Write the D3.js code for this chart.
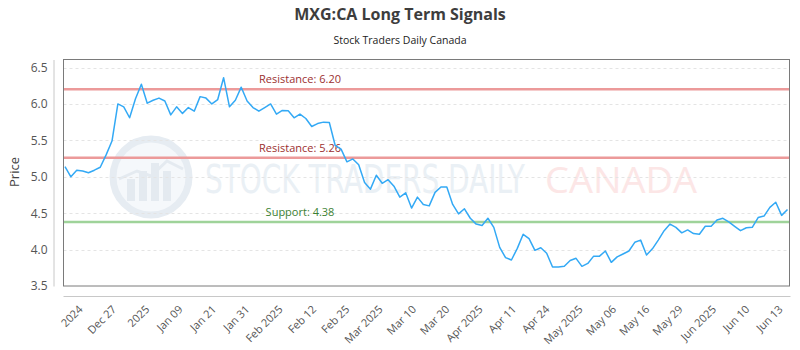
<!DOCTYPE html>
<html>
<head>
<meta charset="utf-8">
<script src="https://cdn.jsdelivr.net/npm/d3@7"></script>
<style>
  html, body { margin: 0; padding: 0; background: #fff; }
  svg { display: block; }
</style>
</head>
<body>
<svg id="chart" width="800" height="350"></svg>
<script>
// Daily closing prices, oldest first
const prices = [
  5.14, 5.00, 5.09, 5.08, 5.055, 5.09, 5.13, 5.30, 5.49, 6.00,
  5.96, 5.81, 6.07, 6.27, 6.01, 6.05, 6.08, 6.04, 5.85, 5.96,
  5.87, 5.95, 5.90, 6.10, 6.08, 6.00, 6.06, 6.36, 5.96, 6.05,
  6.23, 6.04, 5.95, 5.90, 5.95, 6.00, 5.86, 5.91, 5.905, 5.81,
  5.86, 5.80, 5.69, 5.73, 5.75, 5.745, 5.43, 5.38, 5.205, 5.245,
  5.165, 4.92, 4.83, 5.02, 4.91, 4.96, 4.87, 4.72, 4.78, 4.57,
  4.72, 4.62, 4.60, 4.785, 4.86, 4.86, 4.62, 4.49, 4.56, 4.43,
  4.35, 4.33, 4.43, 4.305, 4.03, 3.89, 3.857, 4.017, 4.21, 4.15,
  3.99, 4.025, 3.95, 3.76, 3.76, 3.77, 3.85, 3.88, 3.77, 3.81,
  3.91, 3.91, 3.98, 3.825, 3.90, 3.94, 3.98, 4.10, 4.13, 3.925,
  4.01, 4.13, 4.26, 4.35, 4.305, 4.23, 4.27, 4.22, 4.21, 4.32,
  4.32, 4.405, 4.43, 4.38, 4.32, 4.26, 4.30, 4.305, 4.44, 4.46,
  4.58, 4.65, 4.47, 4.55
];

// Date labels shown along the bottom axis
const dateLabels = [
  "2024", "Dec 27", "2025", "Jan 09", "Jan 21", "Jan 31", "Feb 2025",
  "Feb 12", "Feb 25", "Mar 2025", "Mar 10", "Mar 20", "Apr 2025",
  "Apr 11", "Apr 24", "May 2025", "May 06", "May 16", "May 29",
  "Jun 2025", "Jun 10", "Jun 13"
];

// Price axis ticks
const priceTicks = [3.5, 4.0, 4.5, 5.0, 5.5, 6.0, 6.5];

// Signal levels
const levelNames  = ["Resistance", "Resistance", "Support"];
const levelValues = [6.20, 5.26, 4.38];
const levelKinds  = ["res", "res", "sup"];

const title = "MXG:CA Long Term Signals";
const subtitle = "Stock Traders Daily Canada";

// ---- layout ----
const svg = d3.select("#chart");
const plot = { left: 63.5, right: 789.5, top: 59.5, bottom: 286 };

const x = d3.scaleLinear()
  .domain([0, prices.length - 1])
  .range([65, 787.5]);

const y = d3.scaleLinear()
  .domain([3.5, 6.61])
  .range([plot.bottom, plot.top]);

const xTicks = d3.scalePoint()
  .domain(dateLabels)
  .range([79, 779]);

const uiFont = "'Open Sans', 'DejaVu Sans', sans-serif";

// ---- titles ----
svg.append("text")
  .attr("x", 400).attr("y", 20)
  .attr("text-anchor", "middle")
  .attr("font-family", uiFont)
  .attr("font-weight", "bold")
  .attr("font-size", 16)
  .attr("fill", "#3d3d3d")
  .text(title);

svg.append("text")
  .attr("x", 400).attr("y", 44)
  .attr("text-anchor", "middle")
  .attr("font-family", uiFont)
  .attr("font-size", 10.5)
  .attr("fill", "#222")
  .text(subtitle);

// ---- watermark ----
const wm = svg.append("g").attr("pointer-events", "none");
const cx = 151, cy = 177;
wm.append("circle").attr("cx", cx).attr("cy", cy).attr("r", 38)
  .attr("fill", "#f5f8fb").attr("stroke", "#e6ecf2").attr("stroke-width", 7);
const barH = [22, 30, 38, 30];
barH.forEach((h, i) => {
  wm.append("rect")
    .attr("x", cx - 24 + i * 12).attr("y", cy + 24 - h)
    .attr("width", 8).attr("height", h)
    .attr("fill", "#e4eaf0");
});
wm.append("path")
  .attr("d", `M${cx - 32},${cy + 2} L${cx - 14},${cy - 6} L${cx},${cy - 1} L${cx + 16},${cy - 16} L${cx + 32},${cy - 8}`)
  .attr("fill", "none").attr("stroke", "#e4eaf0").attr("stroke-width", 3);

// Fit a watermark word into a box: size by width, then stretch vertically to the cap height
function fitText(str, family, left, baseline, width, capH, fill) {
  const t = wm.append("text")
    .attr("font-family", family)
    .attr("font-size", 40)
    .attr("fill", fill)
    .text(str);
  const natural = t.node().getComputedTextLength();
  const fs = 40 * width / natural;
  const sy = capH / (0.73 * fs);
  t.attr("font-size", fs)
   .attr("transform", `translate(${left},${baseline}) scale(1,${sy})`);
  return t;
}
fitText("STOCK TRADERS DAILY", "'DejaVu Sans Condensed', 'DejaVu Sans', sans-serif",
        205, 192.5, 320, 29, "#eaf0f5");
fitText("CANADA", "'Open Sans', 'DejaVu Sans', sans-serif",
        545, 192.5, 152, 26, "#fce6e6");

// ---- grid ----
svg.append("g")
  .selectAll("line")
  .data(priceTicks.filter(v => v > 3.5))
  .join("line")
  .attr("x1", plot.left).attr("x2", plot.right)
  .attr("y1", d => Math.round(y(d)) + 0.5)
  .attr("y2", d => Math.round(y(d)) + 0.5)
  .attr("stroke", "#e4e4e4")
  .attr("stroke-dasharray", "3,3");

// ---- y axis ----
const yAxis = d3.axisLeft(y)
  .tickValues(priceTicks)
  .tickFormat(d3.format(".1f"))
  .tickSize(0)
  .tickPadding(6);

const yg = svg.append("g")
  .attr("transform", "translate(53.5,0)")
  .call(yAxis);
yg.select(".domain").attr("stroke", "#c8c8c8");
yg.selectAll("text")
  .attr("font-family", uiFont)
  .attr("font-size", 12)
  .attr("fill", "#555");

svg.append("text")
  .attr("transform", "translate(19,172) rotate(-90)")
  .attr("text-anchor", "middle")
  .attr("font-family", uiFont)
  .attr("font-size", 13)
  .attr("fill", "#444")
  .text("Price");

// ---- x axis ----
svg.append("line")
  .attr("x1", plot.left).attr("x2", plot.right + 1)
  .attr("y1", 296.5).attr("y2", 296.5)
  .attr("stroke", "#c8c8c8");

const xAxis = d3.axisBottom(xTicks).tickSize(0).tickPadding(0);
const xg = svg.append("g")
  .attr("transform", "translate(0,300)")
  .call(xAxis);
xg.select(".domain").remove();
xg.selectAll("text")
  .attr("font-family", uiFont)
  .attr("font-size", 11)
  .attr("fill", "#555")
  .attr("text-anchor", "end")
  .attr("dy", 0)
  .attr("transform", "translate(4,10) rotate(-45)");

// ---- plot frame ----
svg.append("rect")
  .attr("x", plot.left).attr("y", plot.top)
  .attr("width", plot.right - plot.left)
  .attr("height", plot.bottom - plot.top)
  .attr("fill", "none")
  .attr("stroke", "#7a7a7a");

// ---- signal levels ----
const levels = levelValues.map((v, i) => ({ v, name: levelNames[i], kind: levelKinds[i] }));
const lg = svg.append("g");
lg.selectAll("line")
  .data(levels)
  .join("line")
  .attr("x1", plot.left + 0.5).attr("x2", plot.right - 0.5)
  .attr("y1", d => y(d.v)).attr("y2", d => y(d.v))
  .attr("stroke", d => d.kind === "res" ? "#ec9a9a" : "#9fd39a")
  .attr("stroke-width", 2.5);

lg.selectAll("text")
  .data(levels)
  .join("text")
  .attr("x", 300)
  .attr("y", d => y(d.v) - 6)
  .attr("text-anchor", "middle")
  .attr("font-family", uiFont)
  .attr("font-size", 11)
  .attr("fill", d => d.kind === "res" ? "#9b2f2f" : "#3c7f32")
  .text(d => `${d.name}: ${d.v.toFixed(2)}`);

// ---- price line ----
svg.append("path")
  .datum(prices)
  .attr("fill", "none")
  .attr("stroke", "#33a9f5")
  .attr("stroke-width", 1.5)
  .attr("stroke-linejoin", "round")
  .attr("d", d3.line().x((d, i) => x(i)).y(d => y(d)));
</script>
</body>
</html>
